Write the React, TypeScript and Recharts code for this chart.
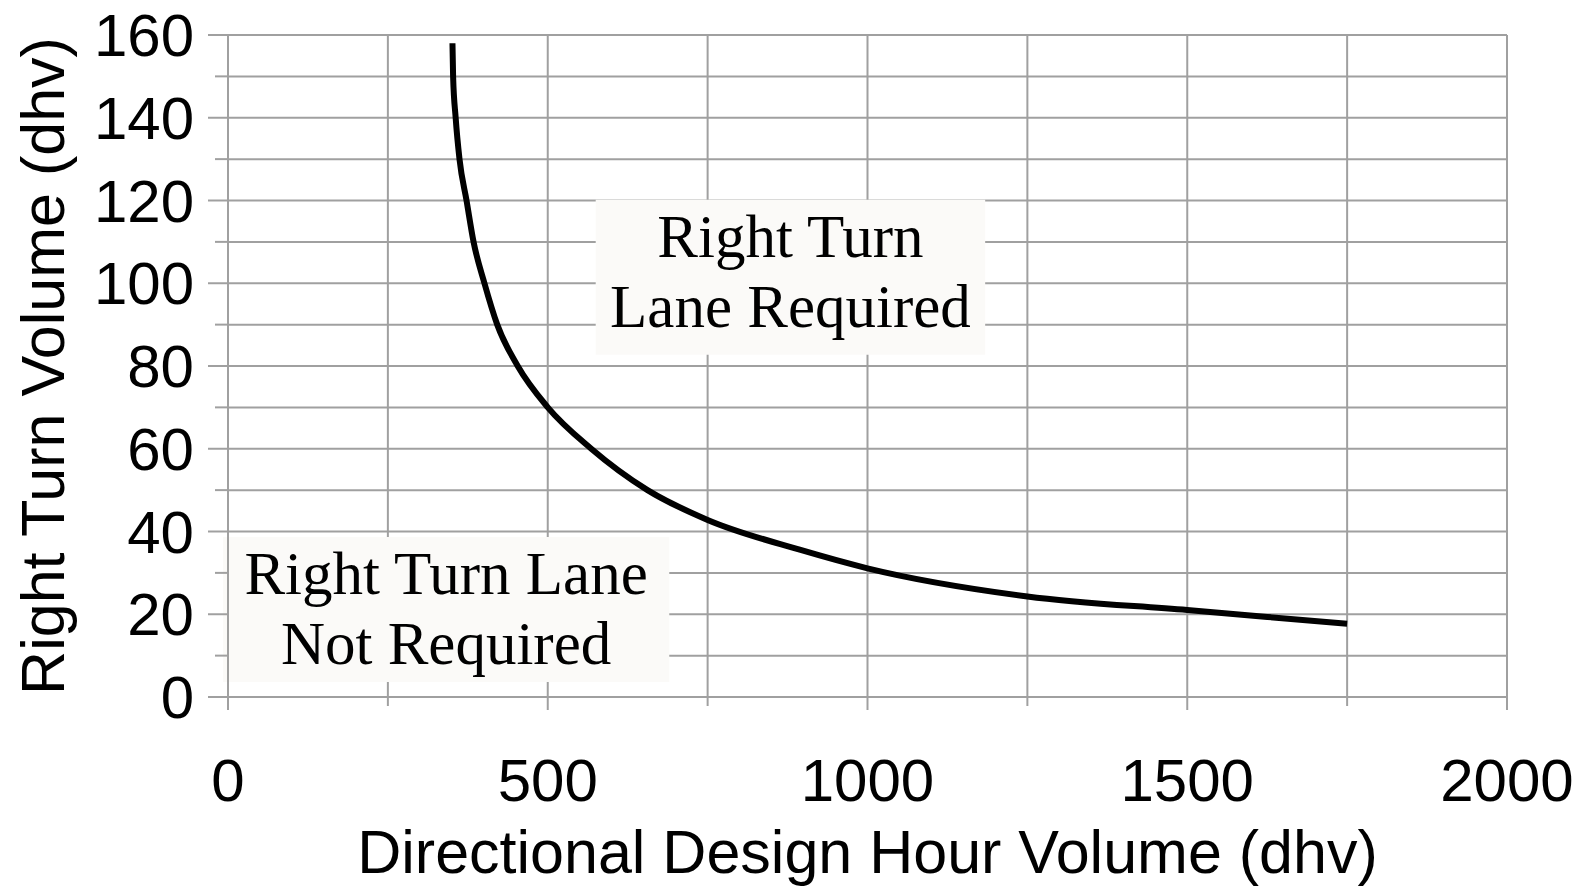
import React from "react";
import {
  LineChart, Line, XAxis, YAxis, CartesianGrid, ReferenceArea,
} from "recharts";

// curve: right turn lane threshold
const DHV = [351, 352, 356, 362, 373, 384, 401, 421, 453, 500, 568, 656, 750, 894, 1000, 1250, 1500, 1750];
const RIGHT_TURN = [158, 150, 140, 130, 120, 110, 100, 90, 80, 70, 60, 50, 42.8, 35.6, 31.1, 24.3, 21, 17.7];

const X_TICKS = [0, 250, 500, 750, 1000, 1250, 1500, 1750, 2000];
const Y_TICKS = [0, 10, 20, 30, 40, 50, 60, 70, 80, 90, 100, 110, 120, 130, 140, 150, 160];

const REQUIRED_LINES = ["Right Turn", "Lane Required"];
const NOT_REQUIRED_LINES = ["Right Turn Lane", "Not Required"];

const data = DHV.map((x, i) => ({ x, y: RIGHT_TURN[i] }));

const GRID = "#a0a0a0";
const SANS = "'Liberation Sans', Arial, sans-serif";
const SERIF = "'Liberation Serif', 'Times New Roman', serif";

const XTick = (props: any) => {
  const { x, y, payload } = props;
  const major = payload.value % 500 === 0;
  return (
    <g>
      <line x1={x} y1={y} x2={x} y2={y + (major ? 13 : 9)} stroke={GRID} strokeWidth={2} />
      {major && (
        <text x={x} y={y + 104} textAnchor="middle" fontSize={60} fontFamily={SANS} fill="#000">
          {payload.value}
        </text>
      )}
    </g>
  );
};

const YTick = (props: any) => {
  const { x, y, payload } = props;
  const major = payload.value % 20 === 0;
  return (
    <g>
      <line x1={x - (major ? 20 : 13)} y1={y} x2={x} y2={y} stroke={GRID} strokeWidth={2} />
      {major && (
        <text x={x - 34} y={y + 21} textAnchor="end" fontSize={60} fontFamily={SANS} fill="#000">
          {payload.value}
        </text>
      )}
    </g>
  );
};

const BoxText = (props: any) => {
  const { viewBox, lines } = props;
  if (!viewBox) return null;
  const cx = viewBox.x + viewBox.width / 2;
  return (
    <g>
      {lines.map((t: string, i: number) => (
        <text
          key={i}
          x={cx}
          y={viewBox.y + 57 + i * 70}
          textAnchor="middle"
          fontSize={61}
          fontFamily={SERIF}
          fill="#000"
        >
          {t}
        </text>
      ))}
    </g>
  );
};

const XTitle = (props: any) => {
  const { viewBox } = props;
  if (!viewBox) return null;
  return (
    <text x={viewBox.x + viewBox.width / 2} y={viewBox.y + 176} textAnchor="middle" fontSize={61} fontFamily={SANS} fill="#000">
      Directional Design Hour Volume (dhv)
    </text>
  );
};

const YTitle = (props: any) => {
  const { viewBox } = props;
  if (!viewBox) return null;
  const cy = viewBox.y + viewBox.height / 2;
  return (
    <text x={64} y={cy} transform={`rotate(-90, 64, ${cy})`} textAnchor="middle" fontSize={61} fontFamily={SANS} fill="#000">
      Right Turn Volume (dhv)
    </text>
  );
};

export default function App() {
  return (
    <div style={{ position: "absolute", left: 0, top: 0, background: "#fff" }}>
      <LineChart width={1589} height={888} data={data} margin={{ top: 35, right: 82, bottom: 0, left: 0 }}>
        <CartesianGrid stroke={GRID} strokeWidth={2} />
        <XAxis
          type="number"
          dataKey="x"
          domain={[0, 2000]}
          ticks={X_TICKS}
          interval={0}
          height={191}
          tickSize={0}
          tickMargin={0}
          axisLine={{ stroke: GRID, strokeWidth: 2 }}
          tick={<XTick />}
          label={<XTitle />}
        />
        <YAxis
          type="number"
          domain={[0, 160]}
          ticks={Y_TICKS}
          interval={0}
          width={228}
          tickSize={0}
          tickMargin={0}
          axisLine={{ stroke: GRID, strokeWidth: 2 }}
          tick={<YTick />}
          label={<YTitle />}
        />
        <ReferenceArea
          x1={575}
          x2={1184}
          y1={82.7}
          y2={120.2}
          fill="#fbfaf8"
          fillOpacity={1}
          stroke="none"
          ifOverflow="visible"
          label={<BoxText lines={REQUIRED_LINES} />}
        />
        <ReferenceArea
          x1={-8}
          x2={690}
          y1={3.6}
          y2={38.7}
          fill="#fbfaf8"
          fillOpacity={1}
          stroke="none"
          ifOverflow="visible"
          label={<BoxText lines={NOT_REQUIRED_LINES} />}
        />
        <Line
          type="monotone"
          dataKey="y"
          stroke="#000"
          strokeWidth={6}
          dot={false}
          activeDot={false}
          isAnimationActive={false}
        />
      </LineChart>
    </div>
  );
}
